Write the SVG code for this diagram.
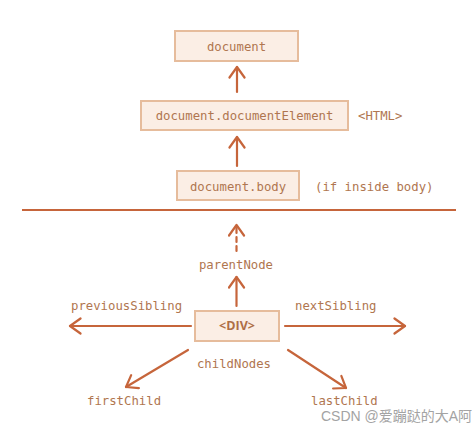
<svg xmlns="http://www.w3.org/2000/svg" width="474" height="430" viewBox="0 0 474 430">
<style>
.box{fill:#FBEEE5;stroke:#E6BC9C;stroke-width:2}
.t{font-family:"DejaVu Sans Mono","Liberation Mono",monospace;font-size:12.3px;fill:#B07650}
.c{text-anchor:middle}
.a{stroke:#C6653B;stroke-width:2.2;fill:none;stroke-linecap:round;stroke-linejoin:round}
</style>
<defs>
<marker id="ah" markerWidth="14" markerHeight="18" refX="12" refY="9" orient="auto" markerUnits="userSpaceOnUse">
<path d="M1.5,1.5 L12,9 L1.5,16.5" fill="none" stroke="#C6653B" stroke-width="2.2" stroke-linecap="round" stroke-linejoin="round"/>
</marker>
</defs>
<rect width="474" height="430" fill="#fff"/>
<g id="n-document"><rect class="box" x="175" y="31" width="123" height="30"/><text class="t c" x="236.5" y="50.5">document</text></g>
<g id="n-documentElement"><rect class="box" x="141" y="101" width="207" height="29"/><text class="t c" x="244.5" y="120">document.documentElement</text><text class="t" x="358" y="120">&lt;HTML&gt;</text></g>
<g id="n-body"><rect class="box" x="177" y="171" width="122" height="29"/><text class="t c" x="238" y="190.5">document.body</text><text class="t" x="315" y="190.5">(if inside body)</text></g>
<g id="n-div"><rect class="box" x="195" y="311" width="84" height="30"/><text x="237" y="330" text-anchor="middle" font-family="'Open Sans','Noto Sans',sans-serif" font-weight="bold" font-size="12.5" fill="#AE6E47">&lt;DIV&gt;</text></g>
<g id="labels">
<text class="t c" x="236" y="269">parentNode</text>
<text class="t" x="71" y="310">previousSibling</text>
<text class="t" x="295" y="310">nextSibling</text>
<text class="t c" x="234" y="368">childNodes</text>
<text class="t" x="87" y="405">firstChild</text>
<text class="t" x="311" y="405">lastChild</text>
</g>
<g id="connectors">
<line class="a" x1="237" y1="92" x2="237" y2="67" marker-end="url(#ah)"/>
<line class="a" x1="237" y1="166" x2="237" y2="137" marker-end="url(#ah)"/>
<line x1="22" y1="210" x2="456" y2="210" stroke="#C6653B" stroke-width="2"/>
<line class="a" x1="236.5" y1="251" x2="236.5" y2="225" stroke-dasharray="5,4" stroke-linecap="butt" marker-end="url(#ah)"/>
<line class="a" x1="236.5" y1="306" x2="236.5" y2="277" marker-end="url(#ah)"/>
<line class="a" x1="191" y1="326" x2="70" y2="326" marker-end="url(#ah)"/>
<line class="a" x1="285" y1="326" x2="405" y2="326" marker-end="url(#ah)"/>
<line class="a" x1="188" y1="350" x2="126" y2="387" marker-end="url(#ah)"/>
<line class="a" x1="288" y1="350" x2="346" y2="388" marker-end="url(#ah)"/>
</g>
<text x="321" y="421" font-family="'Liberation Sans','Noto Sans CJK SC',sans-serif" font-size="14" fill="#A3A3A3">CSDN @爱蹦跶的大A阿</text>
</svg>
